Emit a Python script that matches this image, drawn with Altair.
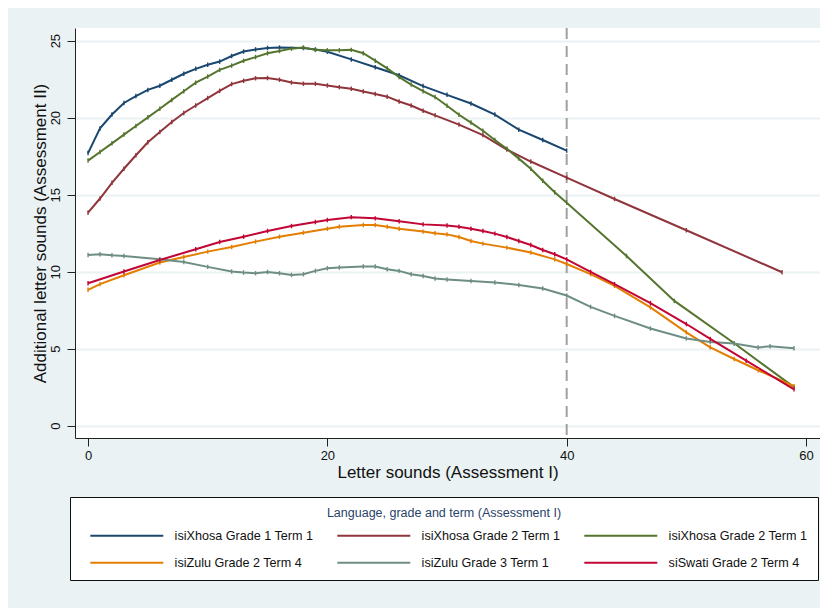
import altair as alt
import pandas as pd

series_names = [
    "isiXhosa Grade 1 Term 1",
    "isiXhosa Grade 2 Term 1",
    "isiXhosa Grade 2 Term 1 ",
    "isiZulu Grade 2 Term 4",
    "isiZulu Grade 3 Term 1",
    "siSwati Grade 2 Term 4",
]
series_colors = ["#1A476F", "#90353B", "#55752F", "#E37E00", "#6E8E84", "#C10534"]

xh_g1t1_x = [0, 1, 2, 3, 4, 5, 6, 7, 8, 9, 10, 11, 12, 13, 14, 15, 16, 18, 19, 20, 22, 24, 26, 28, 30, 32, 34, 36, 38, 40]
xh_g1t1_y = [17.7, 19.3, 20.2, 20.95, 21.4, 21.8, 22.07, 22.46, 22.85, 23.17, 23.43, 23.64, 24.0, 24.29, 24.43, 24.52,
             24.55, 24.52, 24.42, 24.28, 23.78, 23.27, 22.75, 22.05, 21.48, 20.92, 20.2, 19.22, 18.55, 17.86]

xh_g2t1a_x = [0, 1, 2, 3, 4, 5, 6, 7, 8, 9, 10, 11, 12, 13, 14, 15, 16, 17, 18, 19, 20, 21, 22, 23, 24, 25, 26, 27,
              28, 29, 31, 33, 35, 37, 40, 44, 50, 58]
xh_g2t1a_y = [13.83, 14.75, 15.77, 16.68, 17.56, 18.4, 19.07, 19.72, 20.3, 20.79, 21.27, 21.74, 22.18, 22.39, 22.56,
              22.57, 22.46, 22.28, 22.2, 22.2, 22.09, 21.98, 21.87, 21.7, 21.53, 21.36, 21.05, 20.79, 20.45, 20.15,
              19.55, 18.87, 17.93, 17.15, 16.1, 14.72, 12.69, 9.96]

xh_g2t1b_x = [0, 1, 2, 3, 4, 5, 6, 7, 8, 9, 10, 11, 12, 13, 14, 15, 16, 17, 18, 19, 20, 21, 22, 23, 24, 25, 26, 27,
              28, 29, 30, 31, 32, 33, 34, 35, 36, 37, 38, 39, 40, 45, 49, 54, 59]
xh_g2t1b_y = [17.21, 17.77, 18.33, 18.9, 19.46, 20.02, 20.58, 21.15, 21.71, 22.27, 22.67, 23.1, 23.38, 23.69, 23.93,
              24.18, 24.33, 24.48, 24.55, 24.4, 24.37, 24.37, 24.4, 24.18, 23.7, 23.2, 22.63, 22.15, 21.72, 21.34,
              20.77, 20.19, 19.68, 19.15, 18.55, 17.98, 17.34, 16.68, 15.9, 15.15, 14.48, 11.02, 8.1, 5.35, 2.5]

zu_g2t4_x = [0, 1, 3, 6, 8, 10, 12, 14, 16, 18, 20, 21, 23, 24, 25, 26, 28, 29, 30, 31, 32, 33, 35, 37, 39, 40,
             42, 44, 47, 50, 52, 54, 56, 59]
zu_g2t4_y = [8.82, 9.19, 9.77, 10.59, 10.95, 11.3, 11.6, 11.95, 12.27, 12.53, 12.79, 12.92, 13.03, 13.03, 12.92,
             12.79, 12.6, 12.5, 12.42, 12.25, 11.99, 11.82, 11.56, 11.24, 10.8, 10.5, 9.84, 9.08, 7.68, 6.06, 5.09,
             4.33, 3.6, 2.56]

zu_g3t1_x = [0, 1, 2, 3, 6, 8, 10, 12, 13, 14, 15, 16, 17, 18, 19, 20, 21, 23, 24, 25, 26, 27, 28, 29, 30, 32,
             34, 36, 38, 40, 42, 44, 47, 50, 52, 54, 56, 57, 59]
zu_g3t1_y = [11.08, 11.13, 11.06, 11.02, 10.8, 10.63, 10.31, 10.01, 9.94, 9.9, 9.98, 9.9, 9.79, 9.83, 10.05, 10.22,
             10.27, 10.33, 10.33, 10.16, 10.05, 9.83, 9.72, 9.55, 9.49, 9.4, 9.3, 9.14, 8.91, 8.45, 7.71, 7.13,
             6.31, 5.66, 5.44, 5.33, 5.08, 5.15, 5.02]

ss_g2t4_x = [0, 3, 6, 9, 11, 13, 15, 17, 19, 20, 22, 24, 26, 28, 30, 31, 32, 33, 34, 35, 36, 37, 38, 39, 40,
             42, 44, 47, 50, 52, 55, 59]
ss_g2t4_y = [9.25, 10.01, 10.76, 11.45, 11.93, 12.27, 12.64, 12.96, 13.22, 13.35, 13.54, 13.46, 13.28, 13.07, 13.0,
             12.92, 12.79, 12.64, 12.47, 12.25, 11.99, 11.73, 11.41, 11.13, 10.8, 9.98, 9.19, 7.96, 6.6, 5.63,
             4.22, 2.36]

x_ticks = [0, 20, 40, 60]
y_ticks = [0, 5, 10, 15, 20, 25]
cutoff = [40]

all_x = [xh_g1t1_x, xh_g2t1a_x, xh_g2t1b_x, zu_g2t4_x, zu_g3t1_x, ss_g2t4_x]
all_y = [xh_g1t1_y, xh_g2t1a_y, xh_g2t1b_y, zu_g2t4_y, zu_g3t1_y, ss_g2t4_y]

rows = []
for name, xs, ys in zip(series_names, all_x, all_y):
    for i, (xv, yv) in enumerate(zip(xs, ys)):
        rows.append({"series": name, "x": xv, "y": yv, "order": i})
df = pd.DataFrame(rows)

FONT = "Liberation Sans"

x_enc = alt.X("x:Q", scale=alt.Scale(domain=[-1.09, 61.17], nice=False, zero=False),
              axis=alt.Axis(values=x_ticks, title="Letter sounds (Assessment I)", grid=False,
                            labelFontSize=13, titleFontSize=17, titleFontWeight="normal",
                            tickSize=8, labelPadding=3, titlePadding=2,
                            domainColor="#222222", tickColor="#222222", labelColor="#111111",
                            titleColor="#111111"))
y_enc = alt.Y("y:Q", scale=alt.Scale(domain=[-0.8, 25.82], nice=False, zero=False),
              axis=alt.Axis(values=y_ticks, title="Additional letter sounds (Assessment II)",
                            grid=True, gridColor="#EAF2F3", gridWidth=2,
                            labelAngle=270, labelAlign="center", labelBaseline="bottom",
                            labelFontSize=13, titleFontSize=17, titleFontWeight="normal",
                            tickSize=8, labelPadding=5, titlePadding=0,
                            domainColor="#222222", tickColor="#222222", labelColor="#111111",
                            titleColor="#111111"))

color_scale = alt.Scale(domain=series_names, range=series_colors)

lines = alt.Chart(df).mark_line(strokeWidth=2).encode(
    x=x_enc,
    y=y_enc,
    color=alt.Color("series:N", scale=color_scale, sort=series_names,
                    legend=alt.Legend(title="Language, grade and term (Assessment I)")),
    order="order:Q",
)

marks = alt.Chart(df).mark_point(shape="M0,-1L0,1", size=20, filled=False, strokeWidth=1.4, opacity=1).encode(
    x="x:Q",
    y="y:Q",
    color=alt.Color("series:N", scale=color_scale, legend=None),
)

rule = alt.Chart(pd.DataFrame({"x": cutoff})).mark_rule(
    color="#A0A0A0", strokeWidth=2, strokeDash=[11, 7]
).encode(x="x:Q")

chart = alt.layer(rule, lines, marks).properties(
    width=745,
    height=410,
    autosize=alt.AutoSizeParams(type="none"),
    padding={"left": 67, "right": 0, "top": 20, "bottom": 170},
).configure(
    background="#EAF2F3",
    font=FONT,
).configure_view(
    fill="white", stroke=None
).configure_legend(
    orient="none",
    legendX=-5,
    legendY=469,
    columns=3,
    direction="horizontal",
    symbolType="M0.8,0L15.4,0",
    symbolSize=100,
    symbolStrokeWidth=2,
    labelFontSize=12.6,
    labelColor="#111111",
    labelOffset=82,
    columnPadding=13,
    rowPadding=14,
    titleAnchor="middle",
    titleFontSize=12.5,
    titleFontWeight="normal",
    titleColor="#2A3F6C",
    titlePadding=10,
    titleLimit=600,
    padding=10,
    fillColor="white",
    strokeColor="#111111",
    labelLimit=300,
)

chart.save("out.html", embed_options={"renderer": "svg", "actions": False})
